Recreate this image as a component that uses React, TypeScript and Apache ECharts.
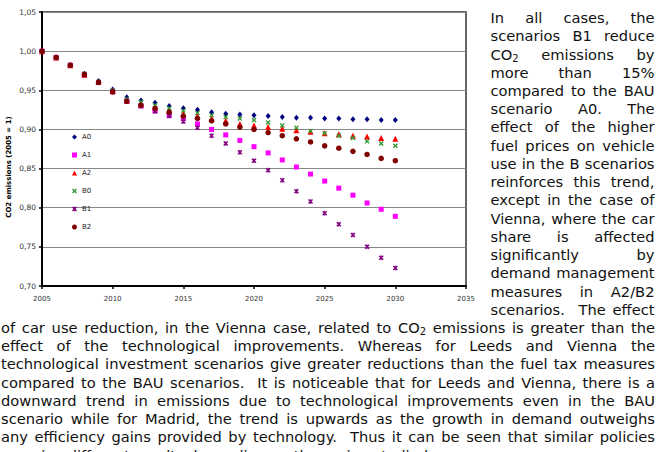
import React, { useEffect, useRef } from 'react';
import * as echarts from 'echarts';

// ---------------- data ----------------
const years = [2005, 2006, 2007, 2008, 2009, 2010, 2011, 2012, 2013, 2014, 2015, 2016, 2017,
  2018, 2019, 2020, 2021, 2022, 2023, 2024, 2025, 2026, 2027, 2028, 2029, 2030];

const seriesNames = ['A0', 'A1', 'A2', 'B0', 'B1', 'B2'];

const A0 = [1.000, 0.992, 0.982, 0.971, 0.962, 0.951, 0.941, 0.937, 0.934, 0.930, 0.927, 0.925, 0.922,
  0.920, 0.919, 0.918, 0.917, 0.916, 0.915, 0.915, 0.914, 0.914, 0.913, 0.913, 0.912, 0.912];
const A1 = [1.000, 0.992, 0.982, 0.970, 0.960, 0.948, 0.936, 0.930, 0.924, 0.918, 0.914, 0.907, 0.900,
  0.893, 0.886, 0.878, 0.870, 0.861, 0.852, 0.843, 0.834, 0.825, 0.816, 0.806, 0.798, 0.789];
const A2 = [1.000, 0.992, 0.982, 0.970, 0.961, 0.949, 0.937, 0.932, 0.928, 0.924, 0.920, 0.917, 0.914,
  0.911, 0.907, 0.905, 0.903, 0.901, 0.899, 0.897, 0.895, 0.894, 0.892, 0.891, 0.889, 0.888];
const B0 = [1.000, 0.992, 0.982, 0.971, 0.961, 0.950, 0.939, 0.935, 0.931, 0.927, 0.924, 0.921, 0.918,
  0.916, 0.914, 0.912, 0.909, 0.905, 0.902, 0.898, 0.895, 0.892, 0.889, 0.885, 0.882, 0.879];
const B1 = [1.000, 0.992, 0.982, 0.970, 0.960, 0.948, 0.936, 0.930, 0.923, 0.917, 0.910, 0.902, 0.892,
  0.882, 0.871, 0.860, 0.848, 0.835, 0.821, 0.808, 0.793, 0.779, 0.765, 0.750, 0.736, 0.723];
const B2 = [1.000, 0.992, 0.982, 0.970, 0.960, 0.948, 0.936, 0.931, 0.927, 0.922, 0.917, 0.914, 0.911,
  0.907, 0.903, 0.900, 0.896, 0.892, 0.888, 0.884, 0.879, 0.876, 0.872, 0.868, 0.863, 0.860];

const seriesValues = [A0, A1, A2, B0, B1, B2];

const yAxisTitle = 'CO2 emissions (2005 = 1)';

// paragraph that wraps around the chart
const rightLines = [
  'In all cases, the',
  'scenarios B1 reduce',
  'CO₂ emissions by',
  'more than 15%',
  'compared to the BAU',
  'scenario A0. The',
  'effect of the higher',
  'fuel prices on vehicle',
  'use in the B scenarios',
  'reinforces this trend,',
  'except in the case of',
  'Vienna, where the car',
  'share is affected',
  'significantly by',
  'demand management',
  'measures in A2/B2',
  'scenarios.  The effect',
];
const bottomLines = [
  'of car use reduction, in the Vienna case, related to CO₂ emissions is greater than the',
  'effect of the technological improvements. Whereas for Leeds and Vienna the',
  'technological investment scenarios give greater reductions than the fuel tax measures',
  'compared to the BAU scenarios.  It is noticeable that for Leeds and Vienna, there is a',
  'downward trend in emissions due to technological improvements even in the BAU',
  'scenario while for Madrid, the trend is upwards as the growth in demand outweighs',
  'any efficiency gains provided by technology.  Thus it can be seen that similar policies',
  'can give different results depending on the region studied.',
];

// ---------------- styles ----------------
const colors = ['#000080', '#FF00FF', '#FF0000', '#3a9a3a', '#800080', '#800000'];
const CROSS = 'path://M0,2L2,0L5,3L8,0L10,2L7,5L10,8L8,10L5,7L2,10L0,8L3,5Z';
const STAR = 'path://M0,2L2,0L5,3L8,0L10,2L7,5L10,8L8,10L5,7L2,10L0,8L3,5ZM4.3,0L5.7,0L5.7,10L4.3,10Z';
const symbols = ['diamond', 'rect', 'triangle', CROSS, STAR, 'circle'];
const symbolSizes: any[] = [[5, 6], 5, 6, 5, 5, 5.5];

const TEXT_SIZE = 14.67;
const SUB_SIZE = 10;
const SUB_DY = 4;
const FAMILY = 'DejaVu Sans';
const TEXT_COLOR = '#111';
const Y0 = 17.6;
const LH = 18.23;

function layoutParagraph(): any[] {
  const cvs = document.createElement('canvas');
  const ctx = cvs.getContext('2d') as CanvasRenderingContext2D;
  const mainFont = `${TEXT_SIZE}px "${FAMILY}"`;
  const subFont = `${SUB_SIZE}px "${FAMILY}"`;
  const w = (t: string, f: string) => {
    ctx.font = f;
    return ctx.measureText(t).width;
  };
  type Seg = { t: string; sub: boolean };
  const segs = (tok: string): Seg[] => {
    const out: Seg[] = [];
    const parts = tok.split('₂');
    parts.forEach((p, i) => {
      if (p) out.push({ t: p, sub: false });
      if (i < parts.length - 1) out.push({ t: '2', sub: true });
    });
    return out;
  };
  const tokW = (tok: string) =>
    segs(tok).reduce((s, g) => s + w(g.t, g.sub ? subFont : mainFont), 0);
  const els: any[] = [];
  const place = (line: string, x0: number, x1: number, yc: number, justify: boolean) => {
    const toks = line.split(' ');
    const widths = toks.map(tokW);
    const total = widths.reduce((a, b) => a + b, 0);
    const gap = justify && toks.length > 1 ? (x1 - x0 - total) / (toks.length - 1) : w(' ', mainFont);
    let x = x0;
    toks.forEach((tok, i) => {
      let sx = x;
      segs(tok).forEach((g) => {
        els.push({
          type: 'text',
          x: sx,
          y: g.sub ? yc + SUB_DY : yc,
          silent: true,
          style: {
            text: g.t,
            fontSize: g.sub ? SUB_SIZE : TEXT_SIZE,
            fontFamily: FAMILY,
            fill: TEXT_COLOR,
            align: 'left',
            verticalAlign: 'middle',
          },
        });
        sx += w(g.t, g.sub ? subFont : mainFont);
      });
      x += widths[i] + gap;
    });
  };
  rightLines.forEach((l, i) => place(l, 490.5, 654.5, Y0 + i * LH, true));
  bottomLines.forEach((l, i) =>
    place(l, 1, 655, Y0 + (rightLines.length + i) * LH, i < bottomLines.length - 1)
  );
  return els;
}

export default function App() {
  const ref = useRef<HTMLDivElement>(null);
  useEffect(() => {
    if (!ref.current) return;
    const chart = echarts.init(ref.current, undefined, { renderer: 'svg' });
    const series = seriesNames.map((name, k) => ({
      name,
      type: 'scatter',
      symbol: symbols[k],
      symbolSize: symbolSizes[k],
      itemStyle: { color: colors[k], opacity: 1 },
      data: years.map((yr, i) => [yr, seriesValues[k][i]]),
      z: 3 + k,
    }));
    const option: any = {
      animation: false,
      backgroundColor: '#fff',
      grid: {
        left: 42,
        top: 12,
        width: 424,
        height: 274,
        show: true,
        borderColor: '#333',
        borderWidth: 1.5,
        backgroundColor: 'transparent',
      },
      xAxis: {
        type: 'value',
        min: 2005,
        max: 2035,
        interval: 5,
        axisLine: { show: true, onZero: false, lineStyle: { color: '#000', width: 2 } },
        axisTick: { show: true, length: 3, lineStyle: { color: '#000', width: 1.5 } },
        axisLabel: {
          fontSize: 7,
          color: '#333',
          margin: 9,
          fontFamily: FAMILY,
          formatter: (v: number) => String(Math.round(v)),
        },
        splitLine: { show: false },
      },
      yAxis: {
        type: 'value',
        min: 0.7,
        max: 1.05,
        interval: 0.05,
        axisLine: { show: true, onZero: false, lineStyle: { color: '#000', width: 2 } },
        axisTick: { show: true, length: 3, lineStyle: { color: '#000', width: 1.5 } },
        axisLabel: {
          fontSize: 7.5,
          color: '#333',
          margin: 6,
          fontFamily: FAMILY,
          formatter: (v: number) => v.toFixed(2).replace('.', ','),
        },
        splitLine: { show: true, lineStyle: { color: '#888', width: 1.2 } },
      },
      legend: {
        orient: 'vertical',
        left: 72,
        top: 132,
        padding: 0,
        itemWidth: 5,
        itemHeight: 5,
        itemGap: 8,
        textStyle: { fontSize: 7, color: '#222', fontFamily: FAMILY, lineHeight: 10 },
        data: seriesNames.map((name, k) => ({ name, icon: symbols[k] })),
      },
      series,
      graphic: [
        {
          type: 'text',
          x: 9,
          y: 167,
          rotation: Math.PI / 2,
          silent: true,
          style: {
            text: yAxisTitle,
            fontSize: 7,
            fontWeight: 'bold',
            fontFamily: FAMILY,
            fill: '#000',
            align: 'center',
            verticalAlign: 'middle',
          },
        },
        ...layoutParagraph(),
      ],
    };
    chart.setOption(option);
    return () => chart.dispose();
  }, []);
  return (
    <div
      ref={ref}
      style={{ position: 'fixed', left: 0, top: 0, width: 661, height: 452, background: '#fff' }}
    />
  );
}
